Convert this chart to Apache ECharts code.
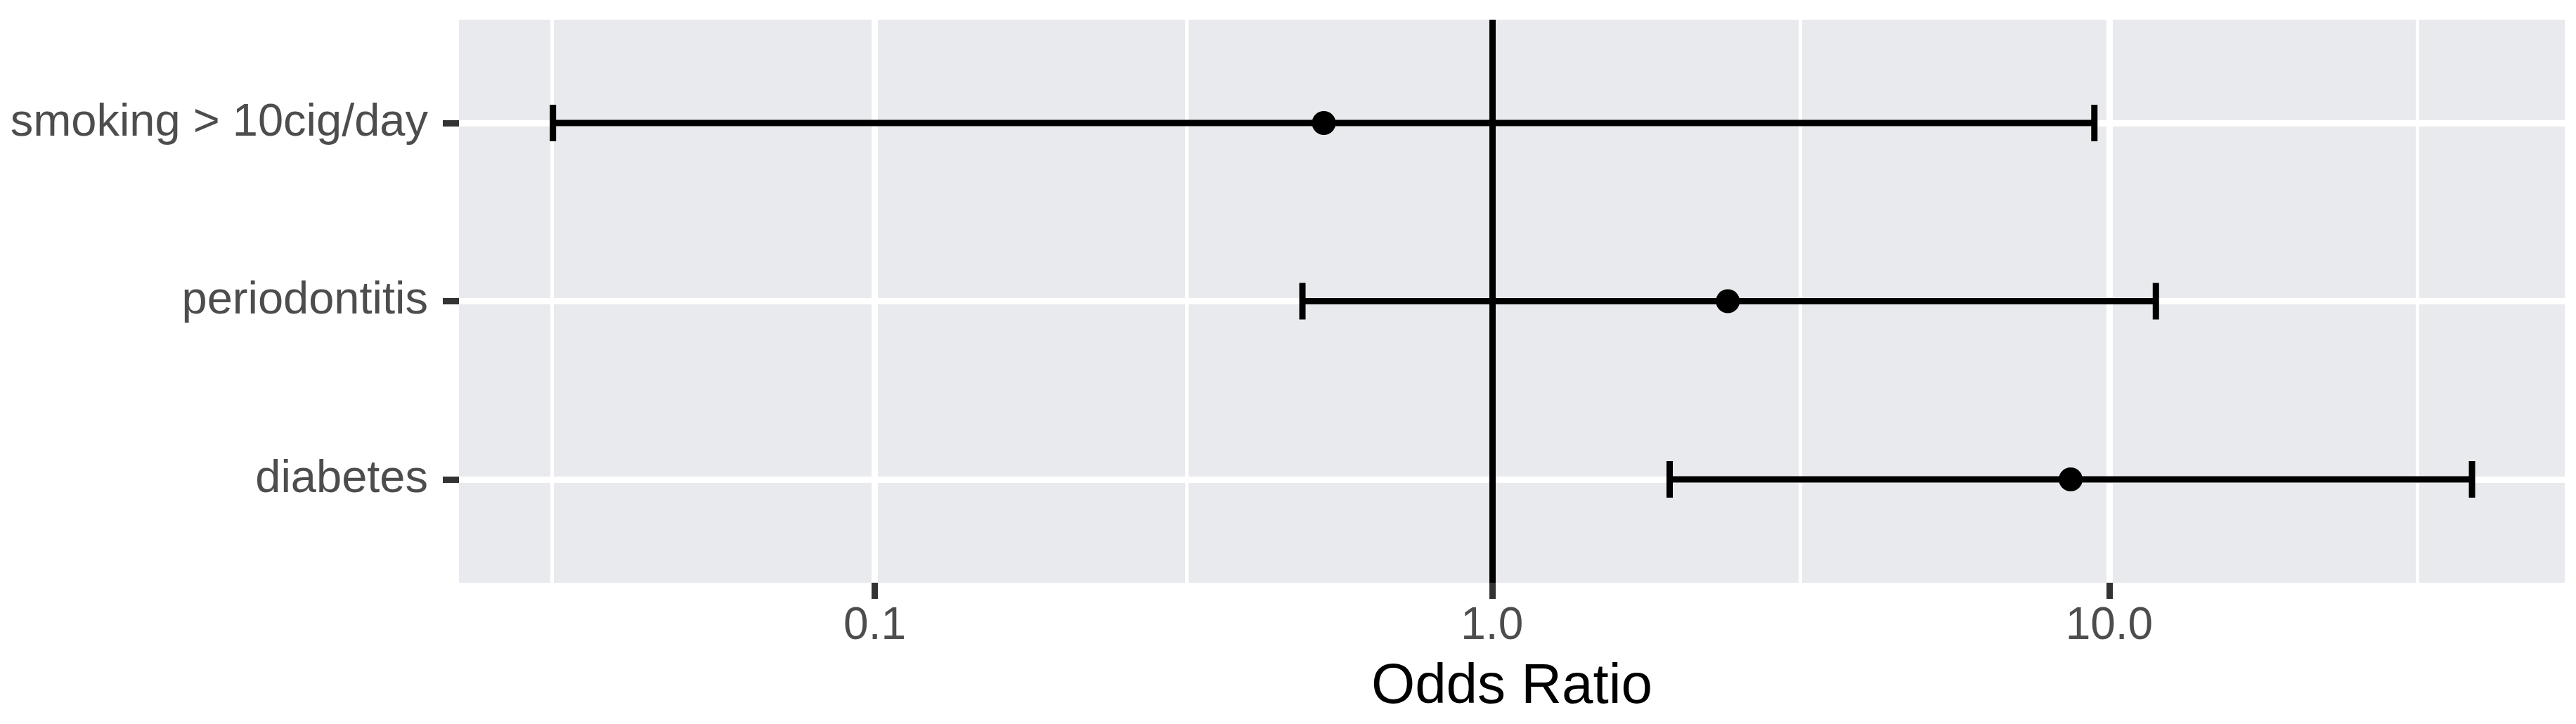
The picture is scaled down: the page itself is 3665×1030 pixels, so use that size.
<!DOCTYPE html>
<html>
<head>
<meta charset="utf-8">
<title>Odds Ratio</title>
<script src="https://cdn.jsdelivr.net/npm/echarts@6/dist/echarts.min.js"></script>
<style>
  html, body { margin: 0; padding: 0; background: #ffffff; }
  #chart { width: 3665px; height: 1030px; }
</style>
</head>
<body>
<div id="chart"></div>
<script>
// rows, top to bottom
const categories = ['smoking > 10cig/day', 'periodontitis', 'diabetes'];
const oddsRatio = [0.534, 2.41, 8.66];
const ciLow = [0.0301, 0.493, 1.94];
const ciHigh = [9.46, 11.9, 38.7];

// x axis (log10)
const xMin = 0.0212;
const xMax = 54.7;
const xTicks = [0.1, 1, 10];
const xTickLabels = ['0.1', '1.0', '10.0'];
const xMinorBreaks = [0.0316, 0.316, 3.16, 31.6];
const refLine = 1;

const rowIdx = categories.map((c, i) => i);

const chart = echarts.init(document.getElementById('chart'), null, { renderer: 'canvas' });

const textFont = 'Liberation Sans, Arial, sans-serif';
const majorW = 9;
const minorW = 5;
const lineOpts = {
  symbol: 'none',
  silent: true,
  animation: false,
  label: { show: false },
  emphasis: { disabled: true }
};

const option = {
  backgroundColor: '#ffffff',
  animation: false,
  grid: {
    left: 653,
    right: 16,
    top: 28,
    bottom: 201,
    show: true,
    backgroundColor: '#E8EAED',
    borderWidth: 0
  },
  xAxis: {
    type: 'log',
    logBase: 10,
    min: xMin,
    max: xMax,
    name: 'Odds Ratio',
    nameLocation: 'middle',
    nameGap: 109,
    nameTextStyle: { fontFamily: textFont, fontSize: 80, color: '#000000' },
    axisLine: { show: false, onZero: false },
    axisTick: {
      show: true,
      length: 23,
      customValues: xTicks,
      lineStyle: { color: '#333333', width: majorW }
    },
    axisLabel: {
      show: true,
      margin: 30,
      fontFamily: textFont,
      fontSize: 64,
      color: '#4D4D4D',
      customValues: xTicks,
      formatter: v => {
        const i = xTicks.findIndex(t => Math.abs(t - v) / t < 1e-6);
        return i >= 0 ? xTickLabels[i] : '';
      }
    },
    splitLine: { show: false },
    minorSplitLine: { show: false }
  },
  yAxis: {
    type: 'value',
    inverse: true,
    min: -0.58,
    max: 2.58,
    axisLine: { show: false, onZero: false },
    axisTick: {
      show: true,
      length: 23,
      customValues: rowIdx,
      lineStyle: { color: '#333333', width: majorW }
    },
    axisLabel: {
      show: true,
      margin: 44,
      fontFamily: textFont,
      fontSize: 65,
      color: '#4D4D4D',
      customValues: rowIdx,
      formatter: v => categories[Math.round(v)] || ''
    },
    splitLine: { show: false }
  },
  series: [
    {
      // panel grid lines
      name: 'grid',
      type: 'line',
      data: [],
      z: 1,
      silent: true,
      markLine: Object.assign({}, lineOpts, {
        z: 1,
        data: [].concat(
          xMinorBreaks.map(v => ({ xAxis: v, lineStyle: { color: '#ffffff', width: minorW, type: 'solid' } })),
          xTicks.map(v => ({ xAxis: v, lineStyle: { color: '#ffffff', width: majorW, type: 'solid' } })),
          rowIdx.map(v => ({ yAxis: v, lineStyle: { color: '#ffffff', width: majorW, type: 'solid' } }))
        )
      })
    },
    {
      // reference line at OR = 1
      name: 'ref',
      type: 'line',
      data: [],
      z: 2,
      silent: true,
      markLine: Object.assign({}, lineOpts, {
        z: 2,
        data: [{ xAxis: refLine, lineStyle: { color: '#000000', width: majorW, type: 'solid' } }]
      })
    },
    {
      name: 'CI',
      type: 'custom',
      z: 3,
      silent: true,
      data: categories.map((c, i) => [ciLow[i], ciHigh[i], i]),
      encode: { x: [0, 1], y: 2 },
      renderItem: (params, api) => {
        const y = api.value(2);
        const p1 = api.coord([api.value(0), y]);
        const p2 = api.coord([api.value(1), y]);
        const h = 26;
        const st = () => ({ stroke: '#000000', lineWidth: majorW, lineCap: 'butt', fill: null });
        return {
          type: 'group',
          children: [
            { type: 'line', shape: { x1: p1[0], y1: p1[1], x2: p2[0], y2: p2[1] }, style: st() },
            { type: 'line', shape: { x1: p1[0], y1: p1[1] - h, x2: p1[0], y2: p1[1] + h }, style: st() },
            { type: 'line', shape: { x1: p2[0], y1: p2[1] - h, x2: p2[0], y2: p2[1] + h }, style: st() }
          ]
        };
      }
    },
    {
      name: 'OR',
      type: 'scatter',
      z: 4,
      silent: true,
      symbol: 'circle',
      symbolSize: 34,
      itemStyle: { color: '#000000', opacity: 1 },
      data: categories.map((c, i) => [oddsRatio[i], i])
    }
  ]
};

chart.setOption(option);
</script>
</body>
</html>
